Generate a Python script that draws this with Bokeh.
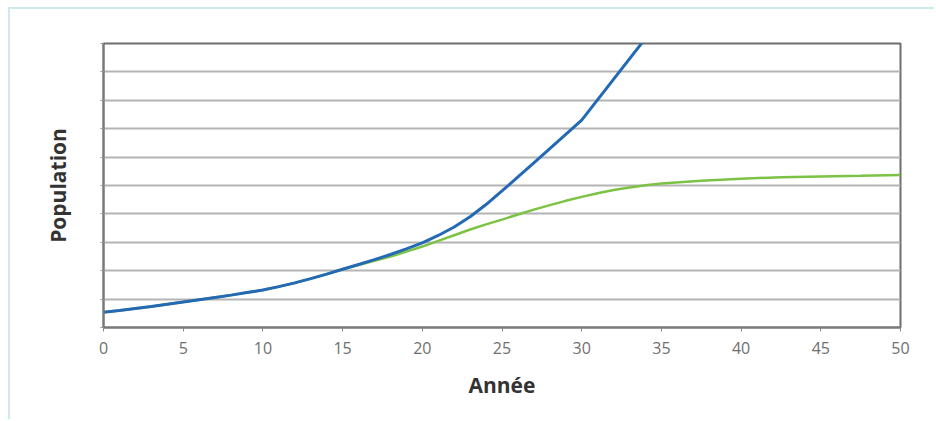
from bokeh.plotting import figure
from bokeh.models import Range1d, FixedTicker, CustomJSTickFormatter
from bokeh.embed import file_html
from bokeh.resources import INLINE

# Data (values in grid units)
years_blue = [0, 1, 2, 3, 4, 5, 6, 7, 8, 9, 10, 11, 12, 13, 14, 15, 16, 17, 18, 19, 20,
              21, 22, 23, 24, 25, 26, 27, 28, 29, 30, 35]
pop_blue = [0.54, 0.6, 0.67, 0.74, 0.82, 0.9, 0.98, 1.06, 1.14, 1.23, 1.32, 1.44, 1.57,
            1.72, 1.88, 2.05, 2.22, 2.39, 2.57, 2.77, 2.98, 3.24, 3.54, 3.9, 4.33, 4.81,
            5.3, 5.8, 6.3, 6.8, 7.3, 10.9]

years_green = [0, 1, 2, 3, 4, 5, 6, 7, 8, 9, 10, 11, 12, 13, 14, 15, 16, 17, 18, 19, 20,
               21, 22, 23, 24, 25, 26, 27, 28, 29, 30, 31, 32, 33, 34, 35,
               37.5, 40, 42.5, 45, 47.5, 50]
pop_green = [0.54, 0.6, 0.67, 0.74, 0.82, 0.9, 0.98, 1.06, 1.14, 1.23, 1.32, 1.44, 1.57,
             1.72, 1.88, 2.05, 2.2, 2.35, 2.5, 2.67, 2.85, 3.05, 3.25, 3.45, 3.63, 3.8,
             3.98, 4.15, 4.31, 4.46, 4.6, 4.73, 4.84, 4.93, 5.01, 5.07,
             5.17, 5.24, 5.29, 5.32, 5.34, 5.37]

x_ticks = [0, 5, 10, 15, 20, 25, 30, 35, 40, 45, 50]
y_ticks = [0, 1, 2, 3, 4, 5, 6, 7, 8, 9, 10]

FONT = "Open Sans"

p = figure(width=926, height=412, output_backend="svg", toolbar_location=None,
           x_range=Range1d(0, 50), y_range=Range1d(0, 10),
           min_border_left=93, min_border_right=36, min_border_top=34, min_border_bottom=94)
p.styles = {"border-top": "2px solid #cfe7ef", "border-left": "2px solid #cfe7ef",
            "margin-left": "8px", "margin-top": "7px"}

p.background_fill_color = "white"
p.border_fill_color = "white"
p.outline_line_color = "#6e6e6e"
p.outline_line_width = 2

p.xgrid.grid_line_color = None
p.ygrid.ticker = FixedTicker(ticks=y_ticks)
p.ygrid.grid_line_color = "#b4b4b4"
p.ygrid.grid_line_width = 2

# x axis
p.xaxis.ticker = FixedTicker(ticks=x_ticks)
p.xaxis.axis_line_color = "#7a7a7a"
p.xaxis.axis_line_width = 2
p.xaxis.major_tick_line_color = "#8a8a8a"
p.xaxis.major_tick_out = 4
p.xaxis.major_tick_in = 0
p.xaxis.minor_tick_line_color = None
p.xaxis.major_label_text_font = FONT
p.xaxis.major_label_text_font_size = "16px"
p.xaxis.major_label_text_color = "#707070"
p.xaxis.major_label_standoff = 10
p.xaxis.axis_label = "Année"
p.xaxis.axis_label_text_font = FONT
p.xaxis.axis_label_text_font_style = "bold"
p.xaxis.axis_label_text_font_size = "21px"
p.xaxis.axis_label_text_color = "#333333"
p.xaxis.axis_label_standoff = 14

# y axis
p.yaxis.ticker = FixedTicker(ticks=y_ticks)
p.yaxis.formatter = CustomJSTickFormatter(code="return ''")
p.yaxis.axis_line_color = "#7a7a7a"
p.yaxis.axis_line_width = 2
p.yaxis.major_tick_line_color = "#9a9a9a"
p.yaxis.major_tick_out = 3
p.yaxis.major_tick_in = 0
p.yaxis.minor_tick_line_color = None
p.yaxis.axis_label = "Population"
p.yaxis.axis_label_text_font = FONT
p.yaxis.axis_label_text_font_style = "bold"
p.yaxis.axis_label_text_font_size = "21px"
p.yaxis.axis_label_text_color = "#333333"
p.yaxis.axis_label_standoff = 29

p.line(years_green, pop_green, line_color="#7cc244", line_width=2.5)
p.line(years_blue, pop_blue, line_color="#2369b4", line_width=3)

open("out.html", "w").write(file_html(p, INLINE))
